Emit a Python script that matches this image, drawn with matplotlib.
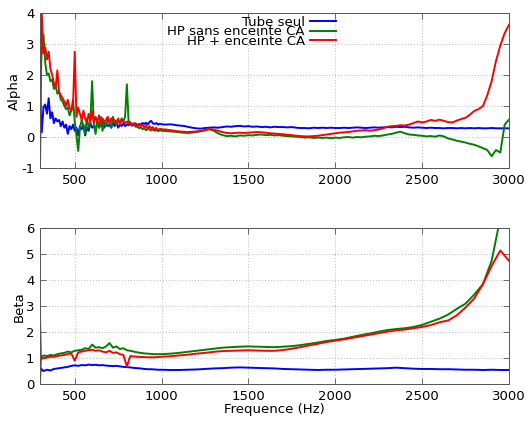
import numpy as np
import matplotlib
matplotlib.use("Agg")
import matplotlib.pyplot as plt

plt.rcParams['font.family'] = ['DejaVu Sans']
plt.rcParams['axes.unicode_minus'] = False

# ---- Alpha (top panel) ----
freq_alpha = np.concatenate([np.arange(300, 1001, 10), np.arange(1025, 3001, 25)])

alpha_tube = [
    1.30, 0.15, 0.95, 1.05, 0.75, 1.25, 0.60, 0.80, 0.45, 0.60,
    0.50, 0.55, 0.35, 0.50, 0.30, 0.40, 0.10, 0.35, 0.25, 0.40,
    0.20, 0.30, 0.05, 0.35, 0.25, 0.40, 0.05, 0.30, 0.20, 0.45,
    0.30, 0.35, 0.25, 0.45, 0.30, 0.40, 0.50, 0.30, 0.45, 0.35,
    0.40, 0.30, 0.45, 0.35, 0.50, 0.30, 0.40, 0.35, 0.45, 0.35,
    0.40, 0.38, 0.42, 0.36, 0.40, 0.44, 0.38, 0.42, 0.40, 0.45,
    0.42, 0.46, 0.40, 0.48, 0.52, 0.44, 0.42, 0.45, 0.40, 0.43,
    0.41,
    0.40, 0.41, 0.39, 0.37, 0.36, 0.33, 0.30, 0.28, 0.27, 0.29,
    0.30, 0.31, 0.30, 0.32, 0.34, 0.33, 0.35, 0.36, 0.34, 0.35,
    0.33, 0.34, 0.32, 0.33, 0.31, 0.33, 0.32, 0.32, 0.31, 0.32,
    0.30, 0.29, 0.29, 0.28, 0.30, 0.29, 0.30, 0.29, 0.30, 0.29,
    0.29, 0.30, 0.29, 0.30, 0.31, 0.30, 0.29, 0.30, 0.31, 0.30,
    0.31, 0.32, 0.31, 0.33, 0.32, 0.33, 0.31, 0.30, 0.31, 0.30,
    0.29, 0.30, 0.29, 0.29, 0.28, 0.29, 0.29, 0.28, 0.29, 0.28,
    0.29, 0.28, 0.29, 0.28, 0.28, 0.29, 0.28, 0.28, 0.28, 0.28,
]

alpha_hp_sans = [
    1.60, 2.90, 3.30, 2.40, 2.00, 2.05, 1.80, 1.85, 1.55, 1.65,
    1.40, 1.45, 1.20, 1.15, 1.00, 0.90, 0.95, 0.70, 0.85, 1.20,
    0.50, 0.05, -0.45, 0.30, 0.55, 0.35, 0.10, 0.60, 0.30, 0.50,
    1.80, 0.40, 0.10, 0.55, 0.30, 0.65, 0.20, 0.50, 0.35, 0.60,
    0.45, 0.30, 0.65, 0.45, 0.40, 0.55, 0.45, 0.60, 0.50, 0.65,
    1.70, 0.50, 0.45, 0.40, 0.42, 0.33, 0.36, 0.28, 0.32, 0.25,
    0.28, 0.22, 0.26, 0.24, 0.21, 0.24, 0.20, 0.23, 0.19, 0.22,
    0.20,
    0.19, 0.18, 0.17, 0.15, 0.14, 0.13, 0.14, 0.16, 0.18, 0.22,
    0.25, 0.20, 0.12, 0.06, 0.03, 0.04, 0.02, 0.05, 0.04, 0.06,
    0.05, 0.07, 0.08, 0.06, 0.07, 0.05, 0.06, 0.04, 0.03, 0.02,
    0.01, 0.00, -0.02, -0.01, -0.03, -0.02, -0.03, -0.02, -0.04, -0.02,
    -0.03, -0.01, 0.00, -0.02, 0.00, -0.01, 0.01, 0.02, 0.04, 0.03,
    0.05, 0.08, 0.10, 0.14, 0.17, 0.12, 0.08, 0.07, 0.05, 0.04,
    0.02, 0.03, 0.01, 0.05, 0.02, -0.05, -0.08, -0.12, -0.15, -0.18,
    -0.22, -0.25, -0.30, -0.36, -0.42, -0.62, -0.42, -0.50, 0.40, 0.56,
]

alpha_hp_ca = [
    -1.00, 4.00, 2.70, 2.90, 2.50, 2.75, 2.20, 2.00, 1.75, 1.60,
    2.15, 1.45, 1.35, 1.25, 1.15, 1.00, 1.20, 0.95, 0.85, 1.00,
    2.75, 0.65, 0.95, 0.75, 0.55, 0.85, 0.60, 0.45, 0.75, 0.50,
    0.85, 0.45, 0.65, 0.50, 0.70, 0.40, 0.60, 0.50, 0.55, 0.65,
    0.45, 0.60, 0.50, 0.55, 0.45, 0.60, 0.40, 0.55, 0.50, 0.45,
    0.50, 0.42, 0.48, 0.38, 0.45, 0.40, 0.32, 0.42, 0.35, 0.40,
    0.30, 0.38, 0.25, 0.35, 0.28, 0.32, 0.22, 0.30, 0.20, 0.27,
    0.25,
    0.24, 0.22, 0.20, 0.18, 0.17, 0.16, 0.17, 0.18, 0.20, 0.22,
    0.26, 0.24, 0.20, 0.16, 0.13, 0.12, 0.13, 0.14, 0.13, 0.14,
    0.15, 0.16, 0.15, 0.14, 0.12, 0.11, 0.10, 0.09, 0.07, 0.06,
    0.04, 0.03, 0.02, 0.02, 0.03, 0.04, 0.06, 0.08, 0.10, 0.12,
    0.14, 0.15, 0.16, 0.18, 0.20, 0.21, 0.22, 0.20, 0.22, 0.24,
    0.28, 0.33, 0.35, 0.36, 0.38, 0.37, 0.40, 0.45, 0.50, 0.47,
    0.50, 0.55, 0.52, 0.56, 0.52, 0.48, 0.47, 0.53, 0.58, 0.62,
    0.72, 0.84, 0.90, 1.00, 1.35, 1.80, 2.45, 2.95, 3.35, 3.62,
]

# ---- Beta (bottom panel) ----
freq_beta = np.concatenate([[300, 305], np.arange(320, 1001, 20), np.arange(1050, 3001, 50)])

beta_tube = [
    0.40, 0.60,
    0.50, 0.55, 0.52, 0.58, 0.60, 0.62, 0.64, 0.66, 0.70, 0.72,
    0.70, 0.73, 0.72, 0.75, 0.73, 0.74, 0.72, 0.73, 0.71, 0.70,
    0.69, 0.70, 0.68, 0.66, 0.65, 0.64, 0.62, 0.61, 0.60, 0.58,
    0.57, 0.57, 0.56, 0.55, 0.55,
    0.54, 0.54, 0.55, 0.56, 0.58, 0.60, 0.61, 0.63, 0.64, 0.63,
    0.62, 0.61, 0.60, 0.58, 0.57, 0.56, 0.55, 0.54, 0.55, 0.55,
    0.56, 0.57, 0.58, 0.59, 0.60, 0.61, 0.63, 0.61, 0.59, 0.58,
    0.58, 0.57, 0.57, 0.56, 0.55, 0.55, 0.54, 0.55, 0.54, 0.54,
]

beta_hp_sans = [
    2.60, 1.00,
    1.10, 1.08, 1.12, 1.10, 1.15, 1.18, 1.20, 1.25, 1.22, 1.28,
    1.30, 1.32, 1.38, 1.35, 1.52, 1.40, 1.42, 1.38, 1.45, 1.58,
    1.40, 1.45, 1.35, 1.38, 1.30, 1.28, 1.25, 1.22, 1.20, 1.18,
    1.17, 1.16, 1.15, 1.15, 1.15,
    1.17, 1.20, 1.24, 1.28, 1.32, 1.36, 1.40, 1.42, 1.44, 1.45,
    1.44, 1.43, 1.42, 1.44, 1.46, 1.50, 1.55, 1.60, 1.66, 1.70,
    1.75, 1.82, 1.89, 1.95, 2.02, 2.08, 2.12, 2.15, 2.20, 2.28,
    2.40, 2.52, 2.68, 2.90, 3.10, 3.45, 3.85, 4.75, 6.40, 8.50,
]

beta_hp_ca = [
    0.00, 0.95,
    1.00, 1.02, 1.05, 1.05, 1.08, 1.10, 1.12, 1.15, 1.18, 0.90,
    1.22, 1.25, 1.28, 1.30, 1.32, 1.28, 1.30, 1.25, 1.22, 1.28,
    1.20, 1.22, 1.15, 1.12, 0.68, 1.08, 1.06, 1.05, 1.04, 1.04,
    1.03, 1.03, 1.03, 1.04, 1.05,
    1.07, 1.10, 1.13, 1.17, 1.20, 1.24, 1.27, 1.28, 1.29, 1.30,
    1.29, 1.28, 1.28, 1.31, 1.36, 1.42, 1.49, 1.55, 1.62, 1.67,
    1.72, 1.78, 1.84, 1.90, 1.96, 2.02, 2.07, 2.10, 2.15, 2.20,
    2.27, 2.38, 2.45, 2.65, 2.95, 3.30, 3.85, 4.55, 5.15, 4.75,
]

labels = ["Tube seul", "HP sans enceinte CA", "HP + enceinte CA"]
colors = ["#0000ff", "#008000", "#ff0000"]
x_ticks = [500, 1000, 1500, 2000, 2500, 3000]

W, H = 528, 421
fig = plt.figure(figsize=(W / 100, H / 100), dpi=100)
ax1 = fig.add_axes([40 / W, 1 - 168 / H, 469 / W, 155 / H])
ax2 = fig.add_axes([40 / W, 1 - 384 / H, 469 / W, 155.6 / H])

FS = 9.5


def style(ax):
    ax.set_xlim(300, 3000)
    ax.set_xticks(x_ticks)
    ax.grid(True, color="#b8b8b8", linestyle=(0, (1, 2)), linewidth=0.7)
    ax.set_axisbelow(True)
    ax.tick_params(direction="in", top=True, right=True, length=4,
                   width=0.6, color="#555555", labelsize=FS, pad=4)
    for s in ax.spines.values():
        s.set_color("#555555")
        s.set_linewidth(0.7)


lw = 1.4
for ys, c, lab in zip([alpha_tube, alpha_hp_sans, alpha_hp_ca], colors, labels):
    ax1.plot(freq_alpha, ys, color=c, lw=lw, label=lab)
ax1.set_ylim(-1, 4)
ax1.set_yticks([-1, 0, 1, 2, 3, 4])
style(ax1)
ax1.set_ylabel("Alpha", fontsize=FS)
ax1.yaxis.set_label_coords(-0.041, 0.5)

for ys, c in zip([beta_tube, beta_hp_sans, beta_hp_ca], colors):
    ax2.plot(freq_beta, ys, color=c, lw=lw)
ax2.set_ylim(0, 6)
ax2.set_yticks([0, 1, 2, 3, 4, 5, 6])
style(ax2)
ax2.set_ylabel("Beta", fontsize=FS)
ax2.yaxis.set_label_coords(-0.030, 0.5)
ax2.set_xlabel("Frequence (Hz)", fontsize=FS, labelpad=0)

ax1.legend(loc="upper right", bbox_to_anchor=(336 / W, 1 - 16.0 / H),
           bbox_transform=fig.transFigure, frameon=False, markerfirst=False,
           fontsize=FS, handlelength=2.0, handletextpad=0.35,
           labelspacing=-0.28, borderpad=0, borderaxespad=0)

fig.savefig("out.png", dpi=100)
